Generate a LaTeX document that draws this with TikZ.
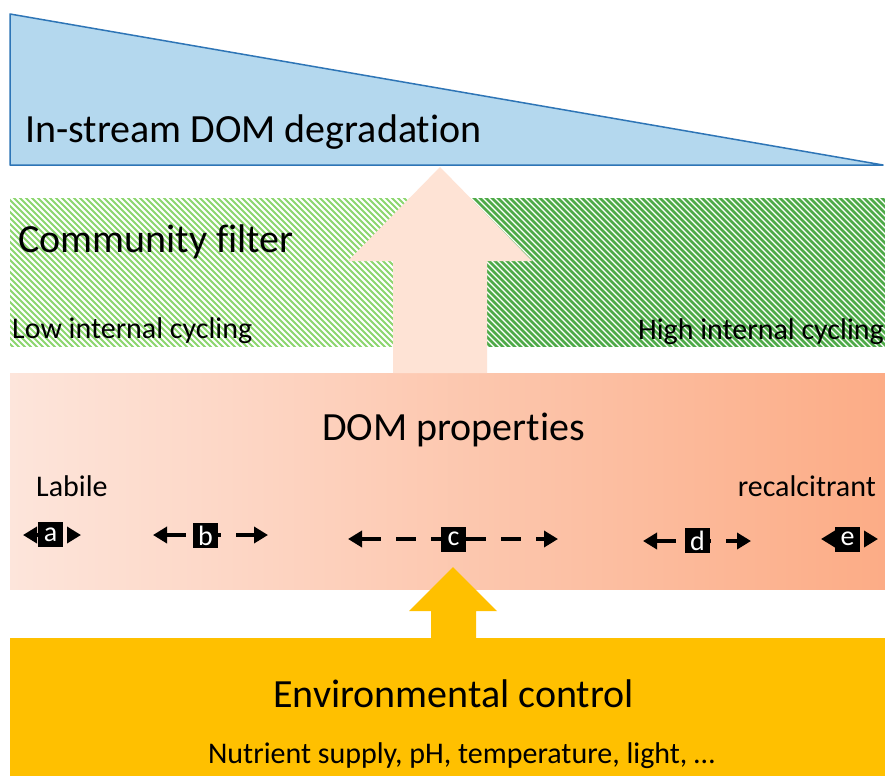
\documentclass[tikz,border=0pt]{standalone}
\usepackage{fontspec}
\setmainfont{Carlito}[Ligatures=NoCommon]
\usetikzlibrary{arrows.meta}
\definecolor{triFill}{RGB}{180,216,238}
\definecolor{triLine}{RGB}{46,117,182}
\definecolor{hatchLight}{RGB}{140,214,110}
\definecolor{hatchDark}{RGB}{78,170,72}
\definecolor{pinkL}{RGB}{253,229,219}
\definecolor{pinkR}{RGB}{252,172,134}
\definecolor{peach}{RGB}{254,227,213}
\definecolor{envOrange}{RGB}{255,192,0}
\begin{document}
\begin{tikzpicture}[x=1pt,y=-1pt,
  big/.style={font=\fontsize{40}{48}\selectfont, inner sep=0pt},
  mid/.style={font=\fontsize{30}{36}\selectfont, inner sep=0pt},
  tag/.style={fill=black, text=white, font=\fontsize{28}{32}\selectfont, minimum width=25pt, minimum height=25pt, inner sep=0pt},
  dimarrow/.style={line width=4pt, {Triangle[length=14pt,width=16pt]}-{Triangle[length=14pt,width=16pt]}, dash pattern=on 20pt off 15pt}]
\useasboundingbox (0,0) rectangle (885,776);
\fill[white] (0,0) rectangle (885,776);
% triangle
\draw[fill=triFill, draw=triLine, line width=1.5pt, line join=round] (10,14) -- (10,165) -- (883,165) -- cycle;
% hatched band
\begin{scope}
  \clip (10,198) rectangle (470,346);
  \foreach \x in {-170,-164,...,476} \draw[hatchLight, line width=2pt] (\x,188) -- (\x+170,358);
\end{scope}
\begin{scope}
  \clip (470,198) rectangle (885,346);
  \foreach \x in {290,296,...,890} \draw[hatchDark, line width=2.6pt] (\x,188) -- (\x+170,358);
\end{scope}
% DOM properties box
\shade[left color=pinkL, right color=pinkR] (10,373) rectangle (885,589);
% big arrow
\fill[peach] (393,373) -- (393,261) -- (348,261) -- (440,167) -- (532,261) -- (487,261) -- (487,373) -- cycle;
% environmental band + arrow
\fill[envOrange] (10,638) rectangle (885,776);
\fill[envOrange] (431,638) -- (431,611) -- (409,611) -- (453,567) -- (497,611) -- (476,611) -- (476,638) -- cycle;
% texts
\node[big, anchor=base west] (deg) at (25,142) {In-stream DOM degradation};
\node[big, anchor=base west] (filter) at (18,252) {Community filter};
\node[mid, anchor=base west] (low) at (12,338) {Low internal cycling};
\node[mid, anchor=base east] (high) at (884,339) {High internal cycling};
\node[big, anchor=base] (props) at (453.5,440) {DOM properties};
\node[mid, anchor=base west] (lab) at (36,496) {Labile};
\node[mid, anchor=base east] (rec) at (876,496) {recalcitrant};
\node[big, anchor=base] (env) at (453.5,707) {Environmental control};
\node[mid, anchor=base] (nut) at (461.5,763) {Nutrient supply, pH, temperature, light, …};
% dashed double arrows
\coordinate (aL) at (23,535);  \coordinate (aR) at (81,535);
\coordinate (bL) at (153,535); \coordinate (bR) at (268,535);
\coordinate (cL) at (348,539); \coordinate (cR) at (558,539);
\coordinate (dL) at (643,541); \coordinate (dR) at (751,541);
\coordinate (eL) at (821,539); \coordinate (eR) at (878,539);
\draw[dimarrow] (aL) -- (aR);
\draw[dimarrow] (bL) -- (bR);
\draw[dimarrow] (cL) -- (cR);
\draw[dimarrow] (dL) -- (dR);
\draw[dimarrow] (eL) -- (eR);
\node[tag] (la) at (50.5,534.5) {a};
\node[tag] (lb) at (205.5,535.5) {b};
\node[tag] (lc) at (453.5,539) {c};
\node[tag] (ld) at (697.5,540.5) {d};
\node[tag] (le) at (847.5,539) {e};
\end{tikzpicture}
\end{document}
